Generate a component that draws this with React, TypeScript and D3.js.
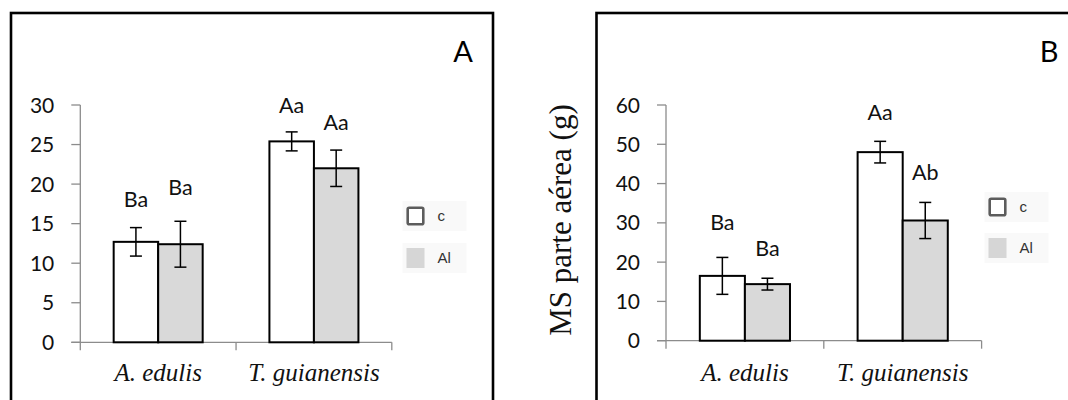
import React from "react";
import * as d3 from "d3";

const categories = ["A. edulis", "T. guianensis"];
const series = ["c", "Al"];

// Panel A
const aMeansC = [12.7, 25.4];
const aErrC = [1.8, 1.2];
const aMeansAl = [12.4, 22.0];
const aErrAl = [2.9, 2.3];
const aLettersC = ["Ba", "Aa"];
const aLettersAl = ["Ba", "Aa"];
const aLetterYC = [17.1, 29.0];
const aLetterYAl = [18.6, 26.9];
const aTicks = [0, 5, 10, 15, 20, 25, 30];

// Panel B
const bMeansC = [16.5, 48.0];
const bErrC = [4.7, 2.75];
const bMeansAl = [14.4, 30.6];
const bErrAl = [1.5, 4.6];
const bLettersC = ["Ba", "Aa"];
const bLettersAl = ["Ba", "Ab"];
const bLetterYC = [28.2, 56.3];
const bLetterYAl = [21.5, 40.9];
const bTicks = [0, 10, 20, 30, 40, 50, 60];

const yLabelB = "MS parte aérea (g)";

const FILLS: Record<string, string> = { c: "#ffffff", Al: "#d9d9d9" };
const AXIS = "#8c8c8c";
const NUM_FONT = "Lato, 'Open Sans', sans-serif";

type PanelProps = {
  means: number[][];
  errs: number[][];
  letters: string[][];
  letterY: number[][];
  ticks: number[];
  yMax: number;
  x0: number;
  x1: number;
  yTop: number;
  yZero: number;
  tickLabelGap: number;
  panelLetter: string;
  panelLetterX: number;
  legendX: number;
  legendY: number[];
};

function Panel(p: PanelProps) {
  const y = d3.scaleLinear().domain([0, p.yMax]).range([p.yZero, p.yTop]);
  const xg = d3.scaleBand<string>().domain(categories).range([p.x0, p.x1]).paddingInner(0).paddingOuter(0);
  const xs = d3.scaleBand<string>().domain(series).range([0, xg.bandwidth()]).paddingInner(0).paddingOuter(0.75);
  const bw = xs.bandwidth();
  const cap = 6;
  const groupTicks = [p.x0, ...categories.map((c) => (xg(c) as number) + xg.bandwidth())];
  return (
    <g>
      {/* y axis */}
      <line x1={p.x0} x2={p.x0} y1={y(p.yMax)} y2={p.yZero + 8} stroke={AXIS} strokeWidth={1.3} />
      {p.ticks.map((t) => (
        <g key={t}>
          <line x1={p.x0 - 9} x2={p.x0} y1={y(t)} y2={y(t)} stroke={AXIS} strokeWidth={1.3} />
          <text x={p.x0 - p.tickLabelGap} y={y(t)} dy="0.36em" textAnchor="end" fontFamily={NUM_FONT} fontSize={21} fill="#111">
            {t}
          </text>
        </g>
      ))}
      {/* x axis */}
      <line x1={p.x0 - 9} x2={p.x1} y1={p.yZero} y2={p.yZero} stroke={AXIS} strokeWidth={1.3} />
      {groupTicks.slice(1).map((gx, i) => (
        <line key={i} x1={gx} x2={gx} y1={p.yZero} y2={p.yZero + 8} stroke={AXIS} strokeWidth={1.3} />
      ))}
      {/* bars */}
      {categories.map((c, ci) =>
        series.map((s, si) => {
          const bx = (xg(c) as number) + (xs(s) as number);
          const v = p.means[si][ci];
          const e = p.errs[si][ci];
          const cx = bx + bw / 2;
          return (
            <g key={c + s}>
              <rect x={bx} y={y(v)} width={bw} height={p.yZero - y(v)} fill={FILLS[s]} stroke="#000" strokeWidth={2} />
              <line x1={cx} x2={cx} y1={y(v + e)} y2={y(v - e)} stroke="#000" strokeWidth={1.5} />
              <line x1={cx - cap} x2={cx + cap} y1={y(v + e)} y2={y(v + e)} stroke="#000" strokeWidth={1.5} />
              <line x1={cx - cap} x2={cx + cap} y1={y(v - e)} y2={y(v - e)} stroke="#000" strokeWidth={1.5} />
              <text x={cx} y={y(p.letterY[si][ci])} textAnchor="middle" fontFamily={NUM_FONT} fontSize={21.5} fill="#111">
                {p.letters[si][ci]}
              </text>
            </g>
          );
        })
      )}
      {/* category labels */}
      {categories.map((c) => (
        <text
          key={c}
          x={(xg(c) as number) + xg.bandwidth() / 2}
          y={381}
          textAnchor="middle"
          fontFamily="'Liberation Serif', 'Times New Roman', serif"
          fontStyle="italic"
          fontSize={25}
          fill="#111"
        >
          {c}
        </text>
      ))}
      {/* panel letter */}
      <text x={p.panelLetterX} y={61.5} textAnchor="middle" fontFamily={NUM_FONT} fontSize={29} fill="#000">
        {p.panelLetter}
      </text>
      {/* legend */}
      {series.map((s, si) => (
        <g key={s}>
          <rect x={p.legendX - 4} y={p.legendY[si] - 15} width={64} height={30} fill="#f9f9f9" />
          {s === "c" ? (
            <rect x={p.legendX + 1.2} y={p.legendY[si] - 8.3} width={15.6} height={16.6} rx={1.5} fill="#fff" stroke="#5c5c5c" strokeWidth={2.6} />
          ) : (
            <rect x={p.legendX} y={p.legendY[si] - 10} width={18} height={20} fill="#d6d6d6" />
          )}
          <text x={p.legendX + 31} y={p.legendY[si] + 5} fontFamily="'Liberation Sans', Arial, sans-serif" fontSize={15} fill="#333">
            {s}
          </text>
        </g>
      ))}
    </g>
  );
}

export default function App() {
  return (
    <svg width={1068} height={400} style={{ position: "absolute", left: 0, top: 0, background: "#fff" }}>
      <rect x={0} y={0} width={1068} height={400} fill="#fff" />
      {/* frames */}
      <rect x={11} y={13} width={482} height={420} fill="none" stroke="#000" strokeWidth={2.6} />
      <rect x={596.5} y={13} width={520} height={420} fill="none" stroke="#000" strokeWidth={2.6} />
      <Panel
        means={[aMeansC, aMeansAl]}
        errs={[aErrC, aErrAl]}
        letters={[aLettersC, aLettersAl]}
        letterY={[aLetterYC, aLetterYAl]}
        ticks={aTicks}
        yMax={30}
        x0={80.3}
        x1={391.8}
        yTop={105}
        yZero={342.3}
        tickLabelGap={26}
        panelLetter="A"
        panelLetterX={463}
        legendX={406.5}
        legendY={[216, 258]}
      />
      <Panel
        means={[bMeansC, bMeansAl]}
        errs={[bErrC, bErrAl]}
        letters={[bLettersC, bLettersAl]}
        letterY={[bLetterYC, bLetterYAl]}
        ticks={bTicks}
        yMax={60}
        x0={666}
        x1={981.6}
        yTop={105}
        yZero={340.7}
        tickLabelGap={26}
        panelLetter="B"
        panelLetterX={1049}
        legendX={988.5}
        legendY={[207, 248]}
      />
      <text
        transform="translate(571,220) rotate(-90)"
        textAnchor="middle"
        fontFamily="'Liberation Serif', 'Times New Roman', serif"
        fontSize={31}
        fill="#111"
      >
        {yLabelB}
      </text>
    </svg>
  );
}
